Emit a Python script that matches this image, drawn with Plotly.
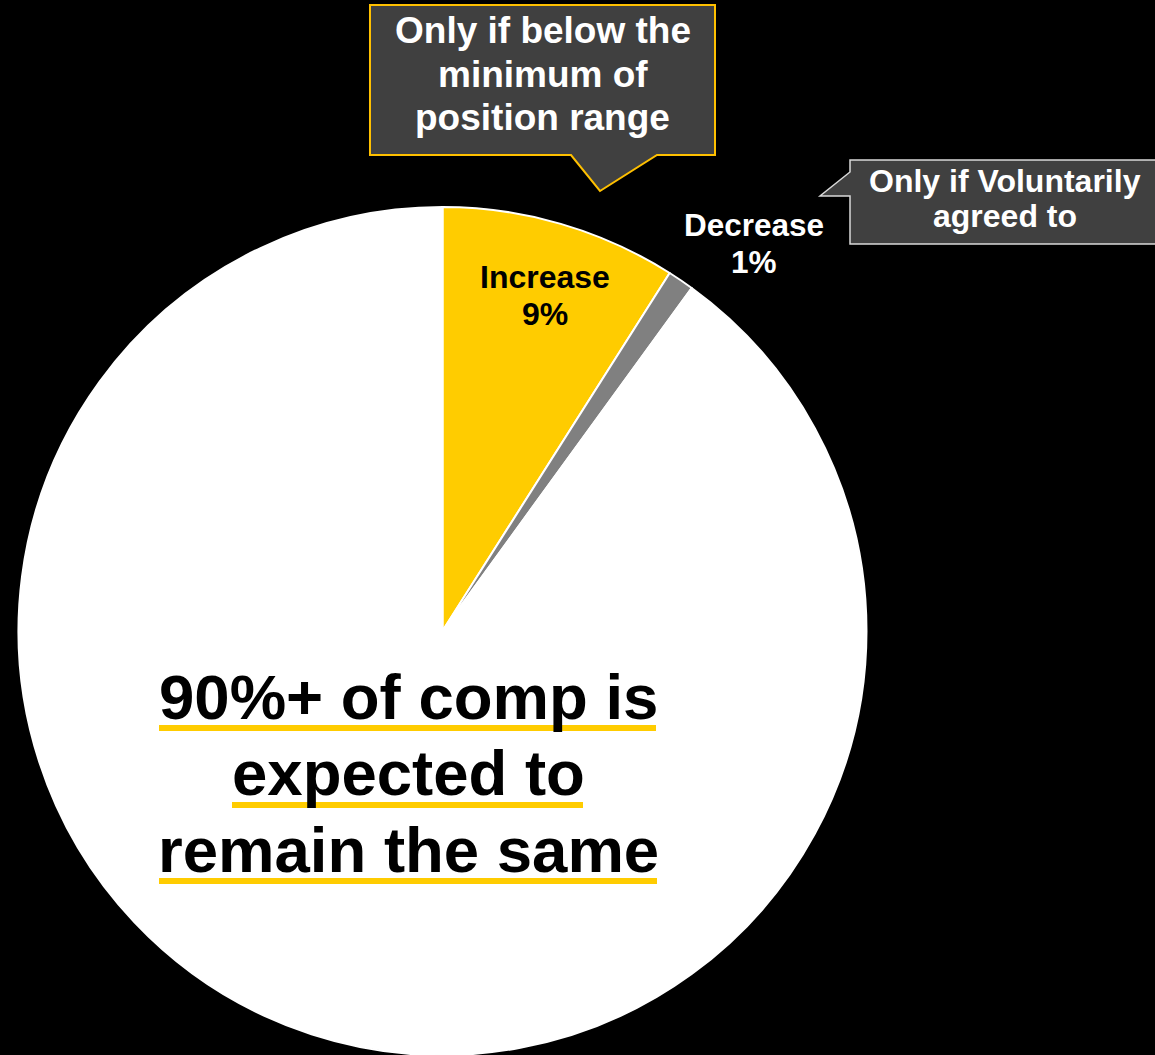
import plotly.graph_objects as go

# ---- data ----
categories = ["Increase", "Decrease", "Remain the same"]
values = [9, 1, 90]
slice_colors = ["#FFCC00", "#808080", "#FFFFFF"]
headline_lines = ["90%+ of comp is", "expected to", "remain the same"]
callout_increase = ["Only if below the", "minimum of", "position range"]
callout_decrease = ["Only if Voluntarily", "agreed to"]

W, H = 1155, 1055
FONT = "Liberation Sans, Arial, sans-serif"


def px(x):
    return x / W


def py(y):
    return 1 - y / H


fig = go.Figure()

# pie: centre (442.5, 631), radius 424
cx, cy, r = 442.5, 631, 424
fig.add_trace(go.Pie(
    labels=categories,
    values=values,
    sort=False,
    direction="clockwise",
    rotation=0,
    marker=dict(colors=slice_colors, line=dict(color="#FFFFFF", width=2)),
    textinfo="none",
    hoverinfo="label+percent",
    showlegend=False,
    domain=dict(x=[px(cx - r), px(cx + r)], y=[py(cy + r), py(cy - r)]),
))

shapes = []
annotations = []


def add_text(text, x, y, size, color):
    annotations.append(dict(
        text="<b>%s</b>" % text, x=px(x), y=py(y), xref="paper", yref="paper",
        xanchor="center", yanchor="middle", showarrow=False,
        font=dict(family=FONT, size=size, color=color),
    ))


total = sum(values)
pct = [round(v / total * 100) for v in values]

# slice labels
add_text(categories[0], 545, 276.5, 32, "#000000")
add_text("%d%%" % pct[0], 545, 313.5, 32, "#000000")
add_text(categories[1], 754, 225, 31.5, "#FFFFFF")
add_text("%d%%" % pct[1], 754, 261.5, 31.5, "#FFFFFF")


def path(points):
    return "M " + " L ".join("%f,%f" % (px(x), py(y)) for x, y in points) + " Z"


# callout 1 (yellow border, pointer down)
shapes.append(dict(
    type="path", xref="paper", yref="paper",
    path=path([(370, 5), (715, 5), (715, 155), (657, 155), (600, 191), (571, 155), (370, 155)]),
    fillcolor="#404040", line=dict(color="#FFC000", width=2), layer="above",
))
# callout 2 (light border, pointer left)
shapes.append(dict(
    type="path", xref="paper", yref="paper",
    path=path([(850, 160), (1160, 160), (1160, 244), (850, 244), (850, 196), (820, 196), (850, 172)]),
    fillcolor="#404040", line=dict(color="#D9D9D9", width=1.5), layer="above",
))

for t, yc in zip(callout_increase, [30.5, 74.5, 117]):
    add_text(t, 542.5, yc, 37, "#FFFFFF")
for t, yc in zip(callout_decrease, [180.5, 216]):
    add_text(t, 1005, yc, 32, "#FFFFFF")

# headline with yellow underlines
for (x0, x1, y0, y1) in [(159, 656, 725, 731), (232, 583, 802, 808), (159, 657, 878, 884)]:
    shapes.append(dict(
        type="rect", xref="paper", yref="paper",
        x0=px(x0), x1=px(x1), y0=py(y1), y1=py(y0),
        fillcolor="#FFCC00", line=dict(width=0), layer="above",
    ))
for t, yc in zip(headline_lines, [697, 772.5, 849.5]):
    add_text(t, 408, yc, 63.5, "#000000")

fig.update_layout(
    width=W, height=H,
    margin=dict(l=0, r=0, t=0, b=0),
    paper_bgcolor="#000000",
    plot_bgcolor="#000000",
    shapes=shapes,
    annotations=annotations,
)

fig.write_html(
    "out.html",
    config={"displayModeBar": False},
    post_script="document.body.style.margin='0px';document.body.style.background='#000000';",
)
